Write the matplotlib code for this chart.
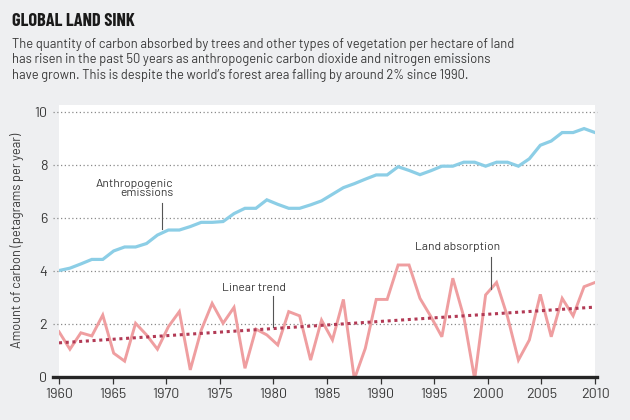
import numpy as np
import matplotlib
matplotlib.use("Agg")
import matplotlib.pyplot as plt

# ---------------- data ----------------
emissions = [4.00, 4.09, 4.25, 4.42, 4.42, 4.74, 4.89, 4.89, 5.02, 5.34,
             5.53, 5.53, 5.66, 5.82, 5.82, 5.85, 6.15, 6.35, 6.35, 6.67,
             6.50, 6.35, 6.35, 6.48, 6.63, 6.88, 7.13, 7.28, 7.45, 7.61,
             7.61, 7.92, 7.78, 7.62, 7.77, 7.94, 7.94, 8.09, 8.09, 7.94,
             8.09, 8.09, 7.94, 8.22, 8.73, 8.89, 9.21, 9.21, 9.36, 9.21]

land_absorption = [1.69, 1.03, 1.65, 1.53, 2.32, 0.88, 0.58, 2.01, 1.57, 1.03,
                   1.88, 2.45, 0.25, 1.75, 2.76, 2.01, 2.61, 0.31, 1.79, 1.57,
                   1.19, 2.45, 2.29, 0.62, 2.13, 1.38, 2.91, -0.10, 1.06, 2.91,
                   2.91, 4.21, 4.21, 2.95, 2.26, 1.50, 3.71, 2.26, -0.10, 3.08,
                   3.55, 2.26, 0.62, 1.38, 3.10, 1.50, 2.95, 2.29, 3.39, 3.55]

trend_years = [1960, 2010]
trend_values = [1.27, 2.62]

x_ticks = [1960, 1965, 1970, 1975, 1980, 1985, 1990, 1995, 2000, 2005, 2010]
y_ticks = [0, 2, 4, 6, 8, 10]

title = "GLOBAL LAND SINK"
subtitle = ("The quantity of carbon absorbed by trees and other types of vegetation per hectare of land\n"
            "has risen in the past 50 years as anthropogenic carbon dioxide and nitrogen emissions\n"
            "have grown. This is despite the world\u2019s forest area falling by around 2% since 1990.")
y_label = "Amount of carbon (petagrams per year)"

# ---------------- style ----------------
BG = "#eeeff1"
TEXT = "#3a3a3a"
BLUE = "#8cceE6"
RED = "#ef9ea0"
TREND = "#b23a55"
BODY = ["Barlow", "DejaVu Sans"]
HEAD = ["Barlow Condensed", "DejaVu Sans"]

plt.rcParams["font.family"] = BODY

fig = plt.figure(figsize=(6.3, 4.2), dpi=100, facecolor=BG)
ax = fig.add_axes([59 / 630, 1 - 376.5 / 420, 536 / 630, (376.5 - 105) / 420])
ax.set_facecolor("white")

x_pos = np.linspace(x_ticks[0], x_ticks[-1], len(emissions))

ax.set_xlim(x_ticks[0], x_ticks[-1])
ax.set_ylim(0, 10.25)

for v in y_ticks[1:]:
    ax.axhline(v, xmin=-0.011, xmax=1.004, color="#8a8a8a", lw=0.9,
               linestyle=(0, (1, 2)), clip_on=False, zorder=1)

ax.plot(x_pos, emissions, color=BLUE, lw=2.3, solid_joinstyle="miter", zorder=3)
ax.plot(x_pos, land_absorption, color=RED, lw=2.1, solid_joinstyle="miter", zorder=3)
ax.plot(trend_years, trend_values, color=TREND, lw=2.2, linestyle=(0, (1, 1.2)), zorder=4)

ax.axhline(0, xmin=-0.011, xmax=1.004, color="#262626", lw=2.4, clip_on=False, zorder=5)

for s in ax.spines.values():
    s.set_visible(False)

ax.set_xticks(x_ticks)
ax.set_yticks(y_ticks)
ax.tick_params(axis="x", length=5, width=0.9, color="#333333", pad=3,
               labelsize=10.3, labelcolor=TEXT, direction="out")
ax.tick_params(axis="y", length=0, pad=8.5, labelsize=10.3, labelcolor=TEXT)

ax.set_ylabel(y_label, fontsize=9.2, color=TEXT, labelpad=7)

# annotations
ann_kw = dict(color=TEXT, fontsize=8.7)
ax.text(1970.66, 7.10, "Anthropogenic\nemissions", ha="right", va="center",
        multialignment="right", linespacing=0.95, **ann_kw)
ax.plot([1969.58, 1969.58], [6.55, 5.55], color="#555555", lw=0.8, zorder=6)

ax.text(1978.2, 3.33, "Linear trend", ha="center", va="center", **ann_kw)
ax.plot([1980.0, 1980.0], [3.05, 1.85], color="#555555", lw=0.8, zorder=6)

ax.text(1997.2, 4.88, "Land absorption", ha="center", va="center", **ann_kw)
ax.plot([2000.3, 2000.3], [4.5, 3.3], color="#555555", lw=0.8, zorder=6)

# title & subtitle
fig.text(12 / 630, 1 - 21 / 420, title, ha="left", va="center",
         fontsize=13.2, fontweight="bold", color="#1a1a1a", family=HEAD)
fig.text(12 / 630, 1 - 38 / 420, subtitle, ha="left", va="top",
         fontsize=9.3, color=TEXT, linespacing=1.25, family=BODY)

fig.savefig("out.png", dpi=100, facecolor=BG)
